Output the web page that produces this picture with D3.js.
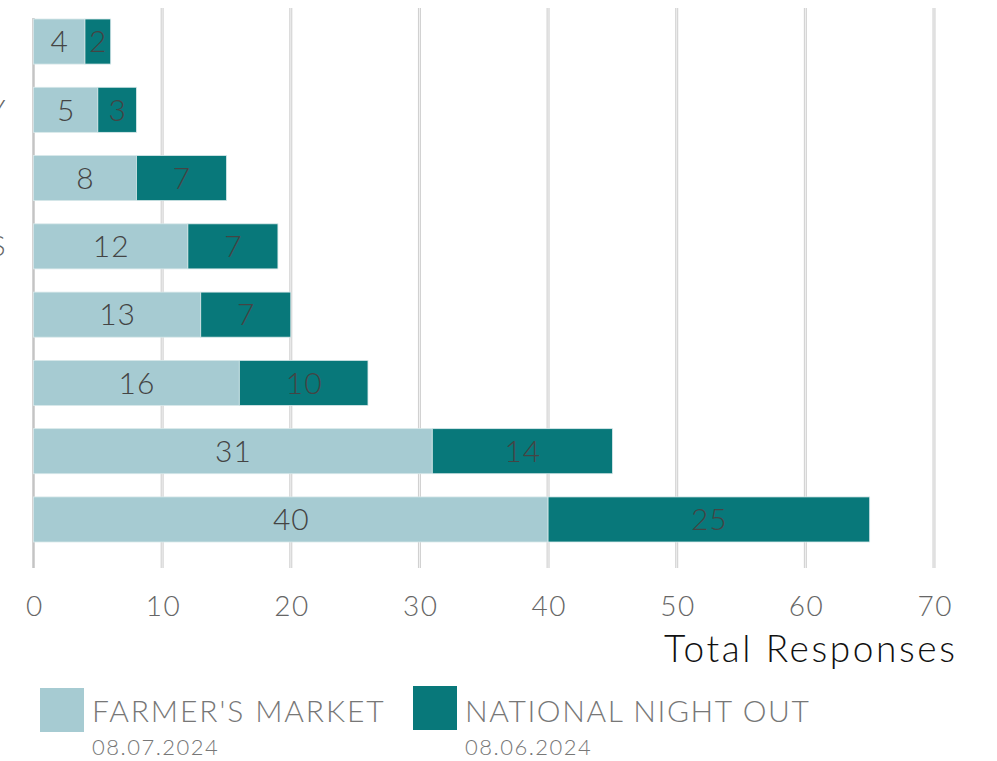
<!DOCTYPE html>
<html><head><meta charset="utf-8">
<script src="https://cdn.jsdelivr.net/npm/d3@7"></script>
<style>
body{margin:0;background:#fff;}
svg{display:block;font-family:"Lato","Open Sans",sans-serif;font-weight:300;}
</style></head>
<body>
<svg id="c" width="997" height="761"></svg>
<script>
// Category labels are cut off at the left edge of the reference; only the last letters are visible.
const categories = ["", "Y", "", "S", "", "", "", ""];
const farmersMarket = [4, 5, 8, 12, 13, 16, 31, 40];
const nationalNightOut = [2, 3, 7, 7, 7, 10, 14, 25];
const xTicks = [0, 10, 20, 30, 40, 50, 60, 70];
const seriesNames = ["FARMER'S MARKET", "NATIONAL NIGHT OUT"];
const seriesDates = ["08.07.2024", "08.06.2024"];
const colors = ["#a6cbd2", "#08787a"];

const svg = d3.select("#c");
const x = d3.scaleLinear().domain([0, 70]).range([33.5, 934]);
const idx = d3.range(categories.length);
const y = d3.scaleBand().domain(idx).range([7.4, 553.6]).paddingInner(0.34).paddingOuter(0.17);

// gridlines
svg.append("g").selectAll("line").data(xTicks.slice(1)).join("line")
  .attr("x1", d => x(d)).attr("x2", d => x(d))
  .attr("y1", 8).attr("y2", 568)
  .attr("stroke", "#cfcfcf").attr("stroke-width", 3);
svg.append("g").selectAll("line").data(xTicks.slice(1)).join("line")
  .attr("x1", d => x(d)).attr("x2", d => x(d))
  .attr("y1", 8).attr("y2", 568)
  .attr("stroke", "#f2f2f2").attr("stroke-width", 1);
// zero axis
svg.append("line").attr("x1", x(0)).attr("x2", x(0)).attr("y1", 18).attr("y2", 568)
  .attr("stroke", "#c4c4c4").attr("stroke-width", 2.5);

const stack = idx.map(i => [
  {s: 0, x0: 0, x1: farmersMarket[i], v: farmersMarket[i], i},
  {s: 1, x0: farmersMarket[i], x1: farmersMarket[i] + nationalNightOut[i], v: nationalNightOut[i], i}
]).flat();

svg.append("g").selectAll("rect").data(stack).join("rect")
  .attr("x", d => x(d.x0)).attr("width", d => x(d.x1) - x(d.x0))
  .attr("y", d => y(d.i)).attr("height", y.bandwidth())
  .attr("fill", d => colors[d.s])
  .attr("stroke", "#d8e8ea").attr("stroke-width", 0.8);

svg.append("g").selectAll("text").data(stack).join("text")
  .attr("x", d => (x(d.x0) + x(d.x1)) / 2 + 0.5)
  .attr("y", d => y(d.i) + y.bandwidth() / 2)
  .attr("dy", "0.36em").attr("text-anchor", "middle")
  .attr("font-size", 30).attr("letter-spacing", 1).attr("fill", "#444")
  .text(d => d.v);

// clipped category labels
svg.append("g").selectAll("text").data(idx).join("text")
  .attr("x", 5.5).attr("y", i => y(i) + y.bandwidth() / 2)
  .attr("dy", "0.36em").attr("text-anchor", "end")
  .attr("font-size", 28).attr("fill", "#666")
  .text(i => categories[i]);

// x axis
const ax = svg.append("g").attr("transform", "translate(0.75,568)")
  .call(d3.axisBottom(x).tickValues(xTicks).tickSize(0).tickPadding(28));
ax.select(".domain").remove();
ax.selectAll("text").attr("font-size", 28).attr("fill", "#666").attr("letter-spacing", 1.5)
  .attr("font-family", "Lato, sans-serif").attr("font-weight", 300);

svg.append("text").attr("x", 957.5).attr("y", 662).attr("text-anchor", "end")
  .attr("font-size", 37).attr("letter-spacing", 2.6).attr("fill", "#111").text("Total Responses");

// legend
const leg = [{x: 40, y: 688}, {x: 413, y: 686}];
seriesNames.forEach((n, k) => {
  const g = svg.append("g").attr("transform", `translate(${leg[k].x},${leg[k].y})`);
  g.append("rect").attr("width", 44).attr("height", 44).attr("fill", colors[k]);
  g.append("text").attr("x", 52).attr("y", 34 - (leg[k].y - 688)).attr("font-size", 30).attr("fill", "#777")
    .attr("letter-spacing", k ? 1.6 : 1.9).text(n);
  g.append("text").attr("x", 52).attr("y", 67 + (k ? 2 : 0)).attr("font-size", 22).attr("fill", "#777")
    .attr("letter-spacing", 1.5).text(seriesDates[k]);
});
</script>
</body></html>
